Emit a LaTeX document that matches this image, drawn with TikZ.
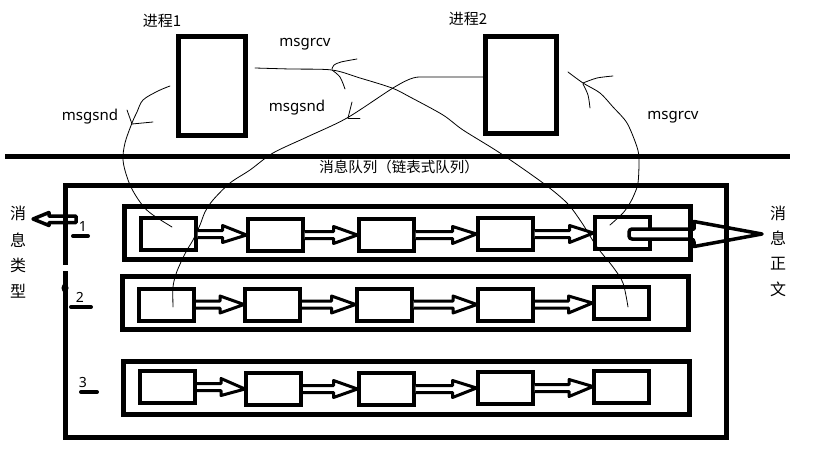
\documentclass[tikz,border=0pt]{standalone}
\usepackage{fontspec}
\setmainfont{Noto Sans}
\newfontfamily\cjk{Noto Sans CJK SC}
\usetikzlibrary{calc}
\tikzset{
  pbox/.style={draw, line width=5pt, inner sep=0pt, outer sep=0pt},
  sbox/.style={draw, line width=4pt, minimum width=55pt, minimum height=32pt, inner sep=0pt, outer sep=0pt},
  rowbox/.style={draw, line width=5pt, minimum width=566pt, minimum height=53pt, inner sep=0pt, outer sep=0pt},
  barrow/.style={line width=3pt, line join=round, fill=white},
  hand/.style={line width=0.8pt, line cap=round, line join=round},
  lbl/.style={inner sep=0pt, font=\fontsize{15}{18}\selectfont},
  clbl/.style={inner sep=0pt, font=\cjk\fontsize{15}{18}\selectfont},
  vlbl/.style={inner sep=0pt, font=\cjk\fontsize{16}{18}\selectfont},
  numlbl/.style={inner sep=0pt, font=\fontsize{14}{16}\selectfont},
  dash line/.style={line width=4pt, line cap=round},
}
\newcommand\linkarrow[2]{%
  \draw[barrow] let \p1=($(#1.east)+(2,0)$), \p2=($(#2.west)+(-1,0)$) in
   (\x1,\y1+3.5pt) -- (\x2-24pt,\y1+3.5pt) -- (\x2-24pt,\y1+8.5pt) -- (\x2,\y2)
   -- (\x2-24pt,\y1-8.5pt) -- (\x2-24pt,\y1-3.5pt) -- (\x1,\y1-3.5pt);}
\begin{document}
\begin{tikzpicture}[x=1pt,y=-1pt]
\path[use as bounding box, fill=white] (0,0) rectangle (819,460);

% process boxes
\node[pbox, minimum width=67pt, minimum height=98pt] (p1) at (211.5,86) {};
\node[pbox, minimum width=71pt, minimum height=96pt] (p2) at (520.5,85) {};
\node[clbl] (p1l) at (162,21) {进程1};
\node[clbl] (p2l) at (468,19) {进程2};

% queue divider
\coordinate (qL) at (5,156);
\coordinate (qR) at (790,156);
\draw[line width=5pt] (qL) -- (qR);
\node[clbl, font=\cjk\fontsize{14.5}{17}\selectfont] (ql) at (399,167) {消息队列（链表式队列）};

% small boxes
\node[sbox] (b11) at (168,234) {};
\node[sbox] (b12) at (275,235) {};
\node[sbox] (b13) at (386,235) {};
\node[sbox] (b14) at (505,234) {};
\node[sbox] (b15) at (622,233) {};
\node[sbox] (b21) at (166.5,304.5) {};
\node[sbox] (b22) at (272.5,304.5) {};
\node[sbox] (b23) at (384,304.5) {};
\node[sbox] (b24) at (505.5,304.5) {};
\node[sbox] (b25) at (621,303) {};
\node[sbox] (b31) at (167.5,387) {};
\node[sbox] (b32) at (273.5,389) {};
\node[sbox] (b33) at (386,389) {};
\node[sbox] (b34) at (505,388) {};
\node[sbox] (b35) at (621.5,386.5) {};

\linkarrow{b11}{b12}\linkarrow{b12}{b13}\linkarrow{b13}{b14}\linkarrow{b14}{b15}
\linkarrow{b21}{b22}\linkarrow{b22}{b23}\linkarrow{b23}{b24}\linkarrow{b24}{b25}
\linkarrow{b31}{b32}\linkarrow{b32}{b33}\linkarrow{b33}{b34}\linkarrow{b34}{b35}

% big arrows
\coordinate (rtip) at (762,234);
\coordinate (ltip) at (33,219);
\draw[barrow, line width=3.5pt, rounded corners=3pt] (694,229) -- (629,229) -- (629,239) -- (694,239)
  [sharp corners] -- (694,246.5) -- (rtip) -- (694,221.5) -- cycle;
\draw[barrow, line width=3.5pt] (76,216) -- (49,216) -- (49,212.5) -- (ltip) -- (49,225.5) -- (49,222.5) -- (76,222.5) -- cycle;

% rows and outer frame
\node[rowbox] (r1) at (407,233) {};
\node[rowbox] (r2) at (405,302.5) {};
\node[rowbox] (r3) at (406.5,387.5) {};
\node[draw, line width=5pt, minimum width=661pt, minimum height=252pt, inner sep=0pt] (outer) at (395.5,311) {};
\draw[white, line width=7pt] (65,265) -- (65,271);
\fill (65,288) ellipse (3.5pt and 4.5pt);

% side labels
\node[vlbl] (t1) at (18,213) {消};
\node[vlbl] (t2) at (18,240) {息};
\node[vlbl] (t3) at (18,265) {类};
\node[vlbl] (t4) at (18,291) {型};
\node[vlbl] (z1) at (778,213) {消};
\node[vlbl] (z2) at (778,238) {息};
\node[vlbl] (z3) at (778,264) {正};
\node[vlbl] (z4) at (778,289) {文};

% numbers
\node[numlbl] (n1) at (83,227) {1};
\node[numlbl] (n2) at (80,297) {2};
\node[numlbl] (n3) at (83,382) {3};
\draw[dash line] (73,236) -- (88,236);
\draw[dash line] (71,307) -- (91,307);
\draw[dash line] (81,392) -- (97,392);

% call labels
\node[lbl] (s1) at (90,117) {msgsnd};
\node[lbl] (r1l) at (305,44) {msgrcv};
\node[lbl] (s2) at (297,108) {msgsnd};
\node[lbl] (r2l) at (673,117) {msgrcv};

% hand-drawn curves
\draw[hand] plot[smooth, tension=0.55] coordinates {(170,86) (158,91) (143,100) (137,112) (132,123) (125,143) (123,160) (127,177) (133,191) (143,206) (153,215) (172,227)};
\draw[hand] (132,124) -- (153,122);
\draw[hand] (132,124) -- (127,110);

\draw[hand] plot[smooth, tension=0.5] coordinates {(173,307) (173,287) (176,274) (181,262) (187,250) (193,240) (200,225) (205,212) (213,200) (230,183) (250,170) (273,153) (307,137) (347,118) (393,88) (413,78) (430,77) (483,77)};
\draw[hand] (348,118) -- (352,102);
\draw[hand] (348,118) -- (360,118);

\draw[hand] plot[smooth, tension=0.5] coordinates {(255,68) (290,69) (332,70) (360,78) (392,88) (410,97) (443,115) (463,130) (500,153) (543,183) (567,203) (582,223) (597,247) (613,267) (623,283) (628,307)};
\draw[hand] plot[smooth] coordinates {(332,69) (334,65) (341,62) (357,59)};
\draw[hand] plot[smooth] coordinates {(332,70) (340,77) (345,89)};

\draw[hand] plot[smooth, tension=0.5] coordinates {(610,225) (623,213) (630,203) (634,195) (638,183) (639,160) (637,147) (627,123) (613,107) (600,93) (583,83) (568,72)};
\draw[hand] plot[smooth] coordinates {(583,84) (588,95) (590,108)};
\draw[hand] plot[smooth] coordinates {(583,83) (597,78) (613,76)};
\end{tikzpicture}
\end{document}
